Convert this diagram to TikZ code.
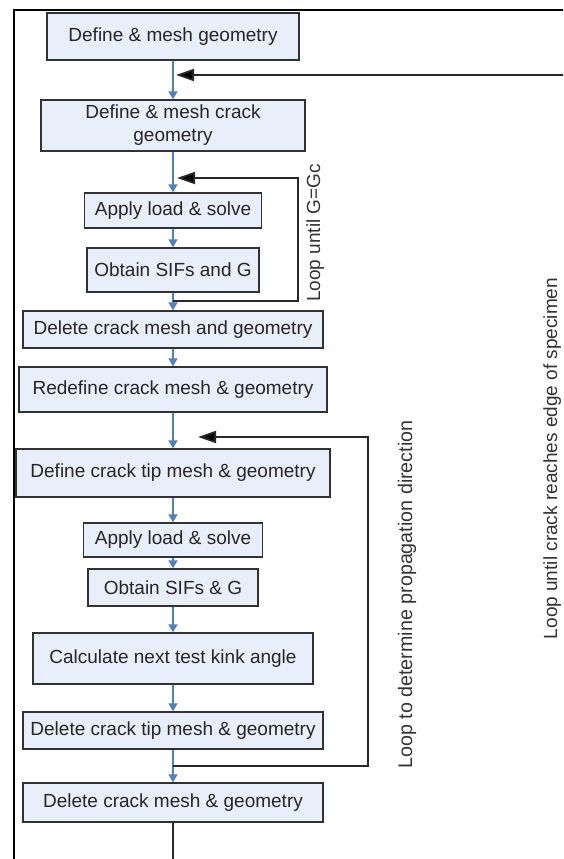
\documentclass[tikz,border=0pt]{standalone}
\usepackage{fontspec}
\setmainfont{Liberation Sans}
\usetikzlibrary{arrows.meta}
\definecolor{boxfill}{RGB}{232,238,250}
\definecolor{boxline}{RGB}{50,50,50}
\definecolor{flowblue}{RGB}{79,129,189}
\definecolor{backcol}{RGB}{40,40,40}
\begin{document}
\begin{tikzpicture}[x=1pt,y=-1pt,
  stepbox/.style={draw=boxline, fill=boxfill, line width=1.4pt, inner sep=0pt,
    align=center, font=\fontsize{19}{23}\selectfont, text=black!85},
  flow/.style={draw=flowblue, line width=1.8pt, -{Triangle[length=8pt,width=9pt]}},
  backline/.style={draw=backcol, line width=1.8pt},
  backarrow/.style={backline, -{Triangle[length=18pt,width=12pt,fill=black]}},
  looplabel/.style={rotate=90, anchor=base, inner sep=0pt,
    font=\fontsize{19}{23}\selectfont, text=black!80}]
\clip (0,0) rectangle (563,859);
\fill[white] (0,0) rectangle (563,859);
% frame
\coordinate (fbl) at (14,865);
\coordinate (ftl) at (14,10);
\coordinate (ftr) at (570,10);
\draw[line width=2pt] (fbl) -- (ftl) -- (ftr);

% boxes
\node[stepbox, minimum width=252pt, minimum height=47pt] (b1) at (173,36.5) {Define \& mesh geometry};
\node[stepbox, minimum width=264pt, minimum height=51pt] (b2) at (173,125.5) {Define \& mesh crack\\geometry};
\node[stepbox, minimum width=177pt, minimum height=35pt] (b3) at (173,210.5) {Apply load \& solve};
\node[stepbox, minimum width=172pt, minimum height=44pt] (b4) at (173,270) {Obtain SIFs and G};
\node[stepbox, minimum width=300pt, minimum height=37pt] (b5) at (173,329.5) {Delete crack mesh and geometry};
\node[stepbox, minimum width=308pt, minimum height=45pt] (b6) at (173,389.5) {Redefine crack mesh \& geometry};
\node[stepbox, minimum width=314pt, minimum height=48pt] (b7) at (173,473) {Define crack tip mesh \& geometry};
\node[stepbox, minimum width=179pt, minimum height=34pt] (b8) at (173,540) {Apply load \& solve};
\node[stepbox, minimum width=170pt, minimum height=37pt] (b9) at (173,587.5) {Obtain SIFs \& G};
\node[stepbox, minimum width=280pt, minimum height=51pt] (b10) at (173,658.5) {Calculate next test kink angle};
\node[stepbox, minimum width=300pt, minimum height=37pt] (b11) at (173,730.5) {Delete crack tip mesh \& geometry};
\node[stepbox, minimum width=300pt, minimum height=39pt] (b12) at (173,802.5) {Delete crack mesh \& geometry};

% flow connectors
\draw[flow] (b1.south) -- (b2.north);
\draw[flow] (b2.south) -- (b3.north);
\draw[flow] (b3.south) -- (b4.north);
\draw[flow] (b4.south) -- (b5.north);
\draw[flow] (b5.south) -- (b6.north);
\draw[flow] (b6.south) -- (b7.north);
\draw[flow] (b7.south) -- (b8.north);
\draw[flow] (b8.south) -- (b9.north);
\draw[flow] (b9.south) -- (b10.north);
\draw[flow] (b10.south) -- (b11.north);
\draw[flow] (b11.south) -- (b12.north);
\coordinate (bend) at (173,865);
\draw[backline] (b12.south) -- (bend);

% loop until G=Gc
\coordinate (g1) at (173,301);
\coordinate (g2) at (298,301);
\coordinate (g3) at (298,178);
\coordinate (g4) at (177,178);
\draw[backarrow] (g1) -- (g2) -- (g3) -- (g4);

% loop to determine propagation direction
\coordinate (p1) at (173,766);
\coordinate (p2) at (368,766);
\coordinate (p3) at (368,437);
\coordinate (p4) at (198,437);
\draw[backarrow] (p1) -- (p2) -- (p3) -- (p4);

% loop until crack reaches edge
\coordinate (e1) at (570,75);
\coordinate (e2) at (176,75);
\draw[backarrow] (e1) -- (e2);

% labels
\node[looplabel] (lab1) at (320,233) {Loop until G=Gc};
\node[looplabel, font=\fontsize{19.7}{23}\selectfont] (lab2) at (412,594.5) {Loop to determine propagation direction};
\node[looplabel] (lab3) at (557,458.5) {Loop until crack reaches edge of specimen};
\end{tikzpicture}
\end{document}
